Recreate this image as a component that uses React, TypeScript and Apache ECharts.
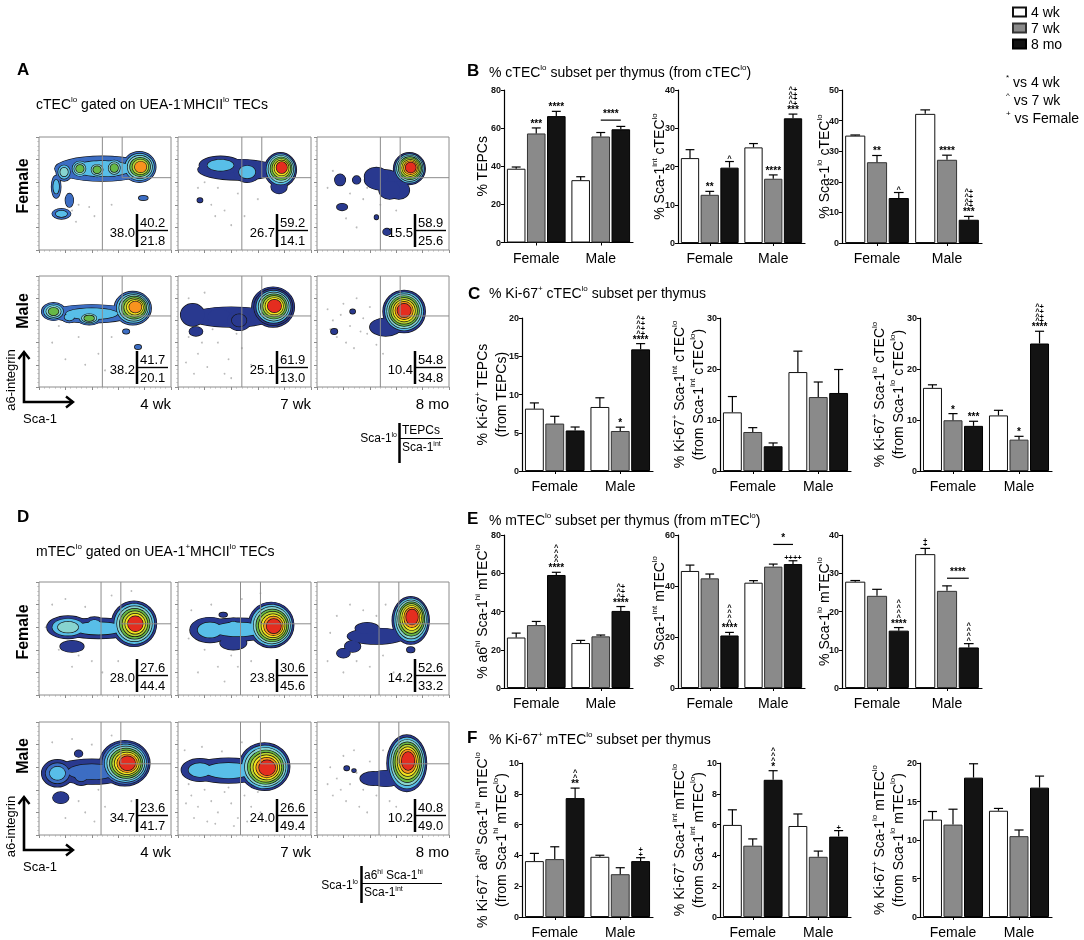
import React, { useEffect, useRef } from 'react';
import * as echarts from 'echarts';

const FONT = '"Liberation Sans", Arial, Helvetica, sans-serif';

const AGES = ['4 wk', '7 wk', '8 mo'];
const SEXES = ['Female', 'Male'];

// ---------- bar data: MEAN[age][sex], ERR[age][sex] ----------
const B1_MEAN = [[38.7, 32.7], [57.2, 55.6], [66.3, 59.4]];
const B1_ERR = [[0.9, 1.8], [2.9, 2.1], [2.5, 1.5]];
const B2_MEAN = [[22.2, 25.0], [12.6, 16.8], [19.7, 32.6]];
const B2_ERR = [[2.2, 1.0], [0.9, 1.0], [1.6, 1.1]];
const B3_MEAN = [[35.1, 42.2], [26.4, 27.2], [14.7, 7.6]];
const B3_ERR = [[0.2, 1.3], [2.2, 1.5], [1.8, 1.1]];

const C1_MEAN = [[8.15, 8.37], [6.2, 5.23], [5.3, 15.9]];
const C1_ERR = [[0.75, 1.2], [0.95, 0.5], [0.45, 0.75]];
const C2_MEAN = [[11.5, 19.4], [7.65, 14.5], [4.85, 15.3]];
const C2_ERR = [[3.1, 4.1], [0.85, 2.95], [0.65, 4.6]];
const C3_MEAN = [[16.3, 10.9], [9.95, 6.15], [8.85, 25.0]];
const C3_ERR = [[0.6, 1.0], [1.3, 0.65], [0.9, 2.4]];

const E1_MEAN = [[26.4, 23.5], [32.9, 27.0], [59.1, 40.3]];
const E1_ERR = [[2.3, 1.4], [1.9, 0.7], [1.4, 2.3]];
const E2_MEAN = [[45.9, 41.3], [43.0, 47.6], [20.6, 48.6]];
const E2_ERR = [[2.3, 0.8], [1.7, 1.0], [1.2, 1.3]];
const E3_MEAN = [[27.8, 35.0], [24.1, 25.4], [15.0, 10.6]];
const E3_ERR = [[0.3, 1.5], [1.7, 1.3], [0.8, 1.0]];

const F1_MEAN = [[3.63, 3.91], [3.76, 2.78], [7.72, 3.63]];
const F1_ERR = [[0.5, 0.1], [0.8, 0.42], [0.65, 0.22]];
const F2_MEAN = [[5.98, 5.91], [4.63, 3.91], [8.91, 5.22]];
const F2_ERR = [[0.98, 0.78], [0.44, 0.37], [0.59, 0.39]];
const F3_MEAN = [[12.65, 13.8], [12.0, 10.5], [18.1, 16.8]];
const F3_ERR = [[1.05, 0.3], [2.0, 0.8], [1.8, 1.5]];

// significance marks: [age, sex, lines from bottom to top]
const B1_ANN = [[1, 0, ['***']], [2, 0, ['****']]];
const B2_ANN = [[1, 0, ['**']], [2, 0, ['^']], [1, 1, ['****']], [2, 1, ['***', '^+', '^+', '^+', '^+']]];
const B3_ANN = [[1, 0, ['**']], [2, 0, ['^']], [1, 1, ['****']], [2, 1, ['***', '^+', '^+', '^+', '^+']]];
const C1_ANN = [[1, 1, ['*']], [2, 1, ['****', '^+', '^+', '^+', '^+']]];
const C2_ANN: any[] = [];
const C3_ANN = [[1, 0, ['*']], [2, 0, ['***']], [1, 1, ['*']], [2, 1, ['****', '^+', '^+', '^+', '^+']]];
const E1_ANN = [[2, 0, ['****', '^', '^', '^', '^']], [2, 1, ['****', '^+', '^+', '^+']]];
const E2_ANN = [[2, 0, ['****', '^', '^', '^', '^']], [2, 1, ['++++']]];
const E3_ANN = [[0, 1, ['+', '+']], [2, 0, ['****', '^', '^', '^', '^']], [2, 1, ['^', '^', '^', '^']]];
const F1_ANN = [[2, 0, ['**', '^', '^']], [2, 1, ['+', '+']]];
const F2_ANN = [[2, 0, ['*', '^', '^', '^']], [2, 1, ['+']]];
const F3_ANN: any[] = [];

// brackets: [sex, fromAge, toAge, yValue, text]
const B1_BR = [[1, 1, 2, 64.2, '****']];
const E2_BR = [[1, 1, 2, 56.3, '*']];
const E3_BR = [[1, 1, 2, 28.7, '****']];

// ---------- flow cytometry contour blobs: [cx, cy, rx, ry, levels, dx, dy] (Sca-1 x, a6 y, 0-100) ----------
const CMAP = ['#29398f', '#3c6dc3', '#58bee8', '#88d4cf', '#67b847', '#bad633', '#f5e21c', '#f7931e', '#e42d1f'];

const A_F4_PAL = [1, 2, 3, 4, 5, 7];
const A_F4_BLOBS = [
  [48, 72, 36, 11, 2],
  [76, 73.5, 12.5, 13.5, 6, 1, 0],
  [57, 72.5, 7, 8.5, 4],
  [44, 71, 7, 7.5, 4],
  [31, 72, 7, 8, 4],
  [19, 69, 6, 8, 3],
  [13, 56, 3.5, 10, 2],
  [23, 44, 3, 6, 1],
  [17, 32, 7, 4.5, 2],
  [79, 46, 3.5, 2, 1],
];
const A_F4_DOTS = [[25, 35], [30, 40], [38, 38], [55, 40], [28, 25], [42, 30]];
const A_F7_PAL = [0, 2, 3, 4, 5, 6, 8];
const A_F7_BLOBS = [
  [45, 71, 30, 9, 1],
  [77, 71, 12, 15, 7, 1, 2],
  [32, 75, 16, 8, 2],
  [52, 69, 10, 9, 2],
  [76, 56, 6, 6, 1],
  [16.5, 44, 2, 2, 1],
];
const A_F7_DOTS = [[20, 60], [30, 55], [45, 50], [25, 40], [35, 35], [60, 45], [50, 30], [15, 55], [40, 22], [28, 30]];
const A_F8_PAL = [0, 2, 3, 4, 5, 6, 7, 8];
const A_F8_BLOBS = [
  [50, 62, 14, 9, 1],
  [70, 72, 12, 14, 8, 1, 1],
  [62, 53, 8, 8, 1],
  [45, 65, 9, 8, 1],
  [55, 53, 8, 8, 1],
  [30, 62, 3, 3.5, 1],
  [17.5, 62, 4, 5, 1],
  [19, 38, 4, 3, 1],
  [53, 16, 3, 3, 1],
  [45, 29, 1.5, 2, 1],
];
const A_F8_DOTS = [[8, 55], [12, 70], [25, 50], [35, 45], [40, 72], [60, 35], [48, 40], [30, 20], [22, 28], [38, 55]];
const A_M4_PAL = [1, 2, 3, 4, 5, 6, 7];
const A_M4_BLOBS = [
  [40, 66, 32, 8, 2],
  [71, 71, 14, 15, 7, 2, 1],
  [38, 62, 9, 6, 4],
  [11, 68, 9, 8, 4],
  [23, 63, 6, 5, 2],
  [66, 50, 2.5, 2, 1],
  [75, 36, 2.5, 2, 1],
];
const A_M4_DOTS = [[10, 40], [20, 25], [30, 45], [45, 30], [55, 45], [15, 55], [35, 20], [50, 15]];
const A_M7_PAL = [0, 0, 2, 3, 4, 5, 6, 8];
const A_M7_BLOBS = [
  [40, 63, 32, 9, 1],
  [71.5, 72, 16, 18, 8, 1, 1],
  [11, 65, 9, 10, 1],
  [31, 63, 9, 7, 1],
  [46, 60, 9, 9, 2],
  [13.5, 50, 5, 4, 1],
];
const A_M7_DOTS = [[8, 45], [15, 30], [22, 18], [30, 40], [38, 25], [12, 12], [44, 48], [26, 52], [6, 22], [35, 12], [48, 35], [55, 20], [18, 40], [40, 8], [8, 80], [20, 85]];
const A_M8_PAL = [0, 2, 3, 4, 5, 6, 7, 8];
const A_M8_BLOBS = [
  [66, 68, 16, 19, 8, 0, 1],
  [52, 54, 12, 8, 1],
  [27, 68, 2, 2, 1],
  [13, 50, 2.5, 2.5, 1],
];
const A_M8_DOTS = [[8, 70], [12, 60], [20, 75], [25, 55], [30, 80], [35, 62], [40, 72], [15, 45], [22, 40], [45, 38], [50, 30], [28, 35], [10, 52], [38, 48], [18, 65], [33, 50]];
const D_F4_PAL = [0, 2, 3, 4, 5, 6, 8];
const D_F4_BLOBS = [
  [45, 59, 30, 9, 2],
  [72, 63, 17, 20, 7, 1, 0],
  [22, 60, 16, 10, 3],
  [42, 62, 8, 7, 2],
  [25, 43, 9, 5, 1],
];
const D_F4_DOTS = [[10, 80], [20, 85], [35, 78], [55, 88], [60, 30], [48, 20], [30, 35], [15, 40], [25, 25], [70, 92], [85, 50], [5, 60], [40, 30]];
const D_F7_PAL = [0, 2, 3, 4, 5, 6, 7, 8];
const D_F7_BLOBS = [
  [45, 58, 30, 10, 2],
  [70, 62, 17, 20, 8, 2, -1],
  [24, 57.5, 15, 11, 2],
  [41.6, 60, 8, 8, 2],
  [41.6, 46, 10, 6, 1],
  [34, 71, 3, 2, 1],
];
const D_F7_DOTS = [[10, 75], [25, 80], [40, 35], [30, 25], [20, 40], [55, 30], [15, 20], [62, 90], [48, 85], [8, 50], [35, 12], [45, 25]];
const D_F8_PAL = [0, 2, 3, 4, 5, 6, 7, 8];
const D_F8_BLOBS = [
  [45, 52, 22, 7, 1],
  [71, 66, 14, 21, 8, 1, 3],
  [38, 59, 9, 5, 1],
  [27, 43, 6, 5, 1],
  [20, 37, 5, 4, 1],
  [71, 40, 3, 2.5, 1],
];
const D_F8_DOTS = [[15, 70], [25, 80], [35, 75], [10, 55], [45, 70], [50, 35], [30, 30], [40, 25], [20, 20], [58, 20], [8, 30], [52, 80]];
const D_M4_PAL = [0, 1, 2, 3, 4, 5, 6, 7, 8];
const D_M4_BLOBS = [
  [40, 56, 30, 11, 2],
  [65, 63.5, 19, 20, 9, 2, 0],
  [14, 54.6, 12, 12, 3],
  [32, 53, 8, 9, 2],
  [16.5, 33, 6, 5, 1],
  [30, 72, 3, 3, 1],
];
const D_M4_DOTS = [[10, 82], [25, 85], [40, 80], [50, 25], [35, 20], [20, 15], [45, 40], [55, 88], [30, 30], [60, 15], [8, 45], [70, 30], [42, 12]];
const D_M7_PAL = [0, 2, 3, 4, 5, 6, 7, 8];
const D_M7_BLOBS = [
  [38, 57, 30, 11, 2],
  [65, 60.5, 19, 21, 8, 2, -1],
  [16.5, 57.5, 14, 10, 2],
  [31.6, 56, 10, 9, 1],
];
const D_M7_DOTS = [[5, 75], [10, 35], [15, 25], [20, 40], [25, 30], [30, 20], [35, 38], [40, 28], [45, 15], [50, 35], [55, 25], [60, 38], [12, 15], [28, 10], [42, 8], [8, 45], [18, 78], [33, 74], [48, 82], [62, 20], [38, 42], [22, 12], [6, 28], [52, 12]];
const D_M8_PAL = [0, 2, 3, 4, 5, 6, 7, 8];
const D_M8_BLOBS = [
  [52, 50, 12, 7, 1],
  [68, 63.5, 15, 25, 8, 1, 2],
  [42.7, 50, 10, 6, 1],
  [22.5, 59, 2, 2, 1],
  [28, 57, 1.5, 1.5, 1],
];
const D_M8_DOTS = [[10, 60], [15, 50], [20, 70], [25, 45], [30, 55], [35, 40], [40, 65], [45, 35], [50, 75], [12, 35], [22, 30], [32, 25], [8, 45], [28, 75], [55, 30], [60, 25], [38, 20], [18, 40]];

// gates [Sca-1lo | Sca-1int boundary, TEPC left boundary, TEPC lower boundary]
const A_GATE = [48, 63, 64];
const D_GATE = [47, 62, 63];

// quadrant percentages [left, upper right, lower right]
const A_NUMS = [['38.0', '40.2', '21.8'], ['26.7', '59.2', '14.1'], ['15.5', '58.9', '25.6'], ['38.2', '41.7', '20.1'], ['25.1', '61.9', '13.0'], ['10.4', '54.8', '34.8']];
const D_NUMS = [['28.0', '27.6', '44.4'], ['23.8', '30.6', '45.6'], ['14.2', '52.6', '33.2'], ['34.7', '23.6', '41.7'], ['24.0', '26.6', '49.4'], ['10.2', '40.8', '49.0']];

// ---------- layout ----------
const FLOW_COLS = [[39, 171], [178, 311], [317, 449]];
const A_ROWS = [[137, 250], [276, 387]];
const D_ROWS = [[582, 695], [722, 835]];

const FLOW_PLOTS = [
  { b: A_F4_BLOBS, p: A_F4_PAL, d: A_F4_DOTS, n: A_NUMS[0], g: A_GATE, c: 0, r: A_ROWS[0] },
  { b: A_F7_BLOBS, p: A_F7_PAL, d: A_F7_DOTS, n: A_NUMS[1], g: A_GATE, c: 1, r: A_ROWS[0] },
  { b: A_F8_BLOBS, p: A_F8_PAL, d: A_F8_DOTS, n: A_NUMS[2], g: A_GATE, c: 2, r: A_ROWS[0] },
  { b: A_M4_BLOBS, p: A_M4_PAL, d: A_M4_DOTS, n: A_NUMS[3], g: A_GATE, c: 0, r: A_ROWS[1] },
  { b: A_M7_BLOBS, p: A_M7_PAL, d: A_M7_DOTS, n: A_NUMS[4], g: A_GATE, c: 1, r: A_ROWS[1] },
  { b: A_M8_BLOBS, p: A_M8_PAL, d: A_M8_DOTS, n: A_NUMS[5], g: A_GATE, c: 2, r: A_ROWS[1] },
  { b: D_F4_BLOBS, p: D_F4_PAL, d: D_F4_DOTS, n: D_NUMS[0], g: D_GATE, c: 0, r: D_ROWS[0] },
  { b: D_F7_BLOBS, p: D_F7_PAL, d: D_F7_DOTS, n: D_NUMS[1], g: D_GATE, c: 1, r: D_ROWS[0] },
  { b: D_F8_BLOBS, p: D_F8_PAL, d: D_F8_DOTS, n: D_NUMS[2], g: D_GATE, c: 2, r: D_ROWS[0] },
  { b: D_M4_BLOBS, p: D_M4_PAL, d: D_M4_DOTS, n: D_NUMS[3], g: D_GATE, c: 0, r: D_ROWS[1] },
  { b: D_M7_BLOBS, p: D_M7_PAL, d: D_M7_DOTS, n: D_NUMS[4], g: D_GATE, c: 1, r: D_ROWS[1] },
  { b: D_M8_BLOBS, p: D_M8_PAL, d: D_M8_DOTS, n: D_NUMS[5], g: D_GATE, c: 2, r: D_ROWS[1] },
];

const BAR_CHARTS = [
  { m: B1_MEAN, e: B1_ERR, a: B1_ANN, br: B1_BR, max: 80, step: 20, name: '% TEPCs', box: [504, 90, 633, 242.5], gap: 14 },
  { m: B2_MEAN, e: B2_ERR, a: B2_ANN, br: [], max: 40, step: 10, name: '% Sca-1{s|int} cTEC{s|lo}', box: [678, 90, 805, 243], gap: 11 },
  { m: B3_MEAN, e: B3_ERR, a: B3_ANN, br: [], max: 50, step: 10, name: '% Sca-1{s|lo} cTEC{s|lo}', box: [842, 90, 982, 243], gap: 10 },
  { m: C1_MEAN, e: C1_ERR, a: C1_ANN, br: [], max: 20, step: 5, name: '% Ki-67{s|+} TEPCs\n(from TEPCs)', box: [522, 318, 653, 471], gap: 12 },
  { m: C2_MEAN, e: C2_ERR, a: C2_ANN, br: [], max: 30, step: 10, name: '% Ki-67{s|+} Sca-1{s|int} cTEC{s|lo}\n(from Sca-1{s|int} cTEC{s|lo})', box: [720, 318, 851, 471], gap: 13 },
  { m: C3_MEAN, e: C3_ERR, a: C3_ANN, br: [], max: 30, step: 10, name: '% Ki-67{s|+} Sca-1{s|lo} cTEC{s|lo}\n(from Sca-1{s|lo} cTEC{s|lo})', box: [920, 318, 1052, 471], gap: 13 },
  { m: E1_MEAN, e: E1_ERR, a: E1_ANN, br: [], max: 80, step: 20, name: '% a6{s|hi} Sca-1{s|hi} mTEC{s|lo}', box: [504, 535, 633, 688], gap: 14 },
  { m: E2_MEAN, e: E2_ERR, a: E2_ANN, br: E2_BR, max: 60, step: 20, name: '% Sca-1{s|int} mTEC{s|lo}', box: [678, 535, 805, 688], gap: 11 },
  { m: E3_MEAN, e: E3_ERR, a: E3_ANN, br: E3_BR, max: 40, step: 10, name: '% Sca-1{s|lo} mTEC{s|lo}', box: [842, 535, 982, 688], gap: 10 },
  { m: F1_MEAN, e: F1_ERR, a: F1_ANN, br: [], max: 10, step: 2, name: '% Ki-67{s|+} a6{s|hi} Sca-1{s|hi} mTEC{s|lo}\n(from Sca-1{s|hi} mTEC{s|lo})', box: [522, 763, 653, 917], gap: 12 },
  { m: F2_MEAN, e: F2_ERR, a: F2_ANN, br: [], max: 10, step: 2, name: '% Ki-67{s|+} Sca-1{s|int} mTEC{s|lo}\n(from Sca-1{s|int} mTEC{s|lo})', box: [720, 763, 851, 917], gap: 13 },
  { m: F3_MEAN, e: F3_ERR, a: F3_ANN, br: [], max: 20, step: 5, name: '% Ki-67{s|+} Sca-1{s|lo} mTEC{s|lo}\n(from Sca-1{s|lo} mTEC{s|lo})', box: [920, 763, 1052, 917], gap: 13 },
];

const BAR_FILL = ['#ffffff', '#8a8a8a', '#131313'];
const BAR_EDGE = ['#111111', '#333333', '#000000'];
const CAT_GAP = 0.09;
const BAR_GAP = 0.08;

const SUP = (fs: number) => ({ s: { fontSize: fs, verticalAlign: 'top', lineHeight: fs + 3, fontFamily: FONT, fill: '#000' } });
const MARK_RICH = {
  st: { fontSize: 10, fontWeight: 'bold', lineHeight: 7, fontFamily: FONT, fill: '#000' },
  c: { fontSize: 7.5, fontWeight: 'bold', lineHeight: 4.8, fontFamily: FONT, fill: '#000' },
};

function contourData(blobs: number[][], pal: number[]) {
  const maxL = Math.max(...blobs.map((b) => b[4]));
  const out: number[][] = [];
  for (let k = 0; k < maxL; k++) {
    for (let pass = 0; pass < 2; pass++) {
      for (const b of blobs) {
        const n = b[4];
        if (k >= n) continue;
        const f = 1 - (k / n) * 0.78;
        const t = n > 1 ? k / (n - 1) : 0;
        out.push([b[0] + (b[5] || 0) * t, b[1] + (b[6] || 0) * t, b[2] * f, b[3] * f, pal[k], pass]);
      }
    }
  }
  return out;
}

function contourItem(params: any, api: any) {
  const c = api.coord([api.value(0), api.value(1)]);
  const s = api.size([api.value(2), api.value(3)]);
  const col = CMAP[api.value(4)];
  const pass = api.value(5);
  return {
    type: 'ellipse',
    shape: { cx: c[0], cy: c[1], rx: s[0], ry: s[1] },
    style: pass === 0 ? { fill: col, stroke: '#161616', lineWidth: 1.4 } : { fill: col, stroke: null, lineWidth: 0 },
    silent: true,
  };
}

function gateItem(params: any, api: any) {
  const g1 = api.value(0), g2 = api.value(1), h = api.value(2);
  const a = api.coord([g1, 0]), b = api.coord([g1, 100]), c = api.coord([g2, 100]), d = api.coord([g2, h]), e = api.coord([100, h]);
  const st = { stroke: '#8c8c8c', lineWidth: 1 };
  return {
    type: 'group',
    children: [
      { type: 'line', shape: { x1: a[0], y1: a[1], x2: b[0], y2: b[1] }, style: st },
      { type: 'line', shape: { x1: c[0], y1: c[1], x2: d[0], y2: d[1] }, style: st },
      { type: 'line', shape: { x1: d[0], y1: d[1], x2: e[0], y2: e[1] }, style: st },
    ],
  };
}

function barX(api: any, cat: number, age: number) {
  const band = api.size([1, 0])[0];
  const usable = band * (1 - CAT_GAP);
  const bw = usable / (3 + 2 * BAR_GAP);
  const cx = api.coord([cat, 0])[0];
  return { x: cx - usable / 2 + age * bw * (1 + BAR_GAP) + bw / 2, bw };
}

function errItemFor(age: number, ann: Record<number, string[]>) {
  return (params: any, api: any) => {
    const cat = api.value(0), m = api.value(1), e = api.value(2);
    const { x, bw } = barX(api, cat, age);
    const base = api.coord([cat, m]);
    const top = api.coord([cat, m + e]);
    const children: any[] = [
      { type: 'line', shape: { x1: x, y1: base[1], x2: x, y2: top[1] }, style: { stroke: '#000', lineWidth: 1.2 } },
      { type: 'line', shape: { x1: x - bw * 0.24, y1: top[1], x2: x + bw * 0.24, y2: top[1] }, style: { stroke: '#000', lineWidth: 1.2 } },
    ];
    const lines = ann[cat];
    if (lines) {
      const text = lines
        .slice()
        .reverse()
        .map((ln) => (ln.indexOf('*') >= 0 ? '{st|' + ln + '}' : '{c|' + ln + '}'))
        .join('\n');
      children.push({
        type: 'text',
        x,
        y: top[1] - 1,
        style: { text, fill: '#000', fontFamily: FONT, align: 'center', verticalAlign: 'bottom', rich: MARK_RICH },
      });
    }
    return { type: 'group', children };
  };
}

function bracketItemFor(list: any[]) {
  return (params: any, api: any) => {
    const [sex, a1, a2, yv, text] = list[params.dataIndex];
    const p1 = barX(api, sex, a1), p2 = barX(api, sex, a2);
    const y = api.coord([sex, yv])[1];
    return {
      type: 'group',
      children: [
        { type: 'line', shape: { x1: p1.x, y1: y, x2: p2.x, y2: y }, style: { stroke: '#000', lineWidth: 1.2 } },
        { type: 'text', x: (p1.x + p2.x) / 2, y: y - 3, style: { text: '{st|' + text + '}', fill: '#000', align: 'center', verticalAlign: 'bottom', rich: MARK_RICH } },
      ],
    };
  };
}

function buildOption() {
  const grid: any[] = [], xAxis: any[] = [], yAxis: any[] = [], series: any[] = [], graphic: any[] = [];
  const txt = (x: number, y: number, text: string, o: any = {}) =>
    graphic.push({
      type: 'text', x, y, z: 100, silent: true, rotation: o.rotation || 0,
      style: {
        text, fontFamily: FONT, fontSize: o.fs || 14, fontWeight: o.fw || 'normal', fill: '#000',
        align: o.align || 'left', verticalAlign: 'middle', lineHeight: (o.fs || 14) + 3, rich: SUP(o.sfs || 8),
      },
    });
  const seg = (pts: number[][], w: number) =>
    graphic.push({ type: 'polyline', z: 100, silent: true, shape: { points: pts }, style: { stroke: '#000', lineWidth: w, fill: null } });

  let gi = 0;
  FLOW_PLOTS.forEach((fp) => {
    const [x0, x1] = FLOW_COLS[fp.c];
    const [y0, y1] = fp.r;
    grid.push({ left: x0, top: y0, width: x1 - x0, height: y1 - y0, show: true, borderColor: '#8c8c8c', borderWidth: 1, backgroundColor: '#fff' });
    const ax = {
      gridIndex: gi, type: 'value', min: 0, max: 100, interval: 20,
      axisLine: { show: false }, axisLabel: { show: false }, splitLine: { show: false },
      axisTick: { show: true, length: 3, lineStyle: { color: '#8c8c8c' } },
      minorTick: { show: true, splitNumber: 5, length: 1.5, lineStyle: { color: '#b0b0b0' } },
    };
    xAxis.push({ ...ax });
    yAxis.push({ ...ax });
    series.push({ type: 'scatter', xAxisIndex: gi, yAxisIndex: gi, data: fp.d, symbolSize: 1.8, silent: true, z: 1, itemStyle: { color: '#a9a9a9' } });
    series.push({ type: 'custom', xAxisIndex: gi, yAxisIndex: gi, data: contourData(fp.b, fp.p), renderItem: contourItem, clip: true, silent: true, z: 2, encode: { x: 0, y: 1 } });
    series.push({ type: 'custom', xAxisIndex: gi, yAxisIndex: gi, data: [fp.g], renderItem: gateItem, clip: true, silent: true, z: 3, encode: { x: 0, y: 1 }, itemStyle: { color: '#8c8c8c' } });
    const bx = x1 - 34;
    seg([[bx, y1 - 36], [bx, y1 - 3]], 2.5);
    seg([[bx, y1 - 19.5], [x1 - 3, y1 - 19.5]], 1.4);
    txt(bx - 2, y1 - 18, fp.n[0], { fs: 13, align: 'right' });
    txt(bx + 3, y1 - 27.5, fp.n[1], { fs: 13 });
    txt(bx + 3, y1 - 10, fp.n[2], { fs: 13 });
    gi++;
  });

  BAR_CHARTS.forEach((bc) => {
    const [l, t, r, b] = bc.box;
    grid.push({ left: l, top: t, width: r - l, height: b - t });
    xAxis.push({
      gridIndex: gi, type: 'category', data: SEXES,
      axisLine: { lineStyle: { color: '#000', width: 1.2 } },
      axisTick: { show: true, alignWithLabel: true, length: 3, lineStyle: { color: '#000' } },
      axisLabel: { fontSize: 14, color: '#000', margin: 8, fontFamily: FONT },
    });
    const multi = bc.name.indexOf('\n') >= 0;
    yAxis.push({
      gridIndex: gi, type: 'value', min: 0, max: bc.max, interval: bc.step,
      axisLine: { show: true, lineStyle: { color: '#000', width: 1.2 } },
      axisTick: { show: true, length: 3, lineStyle: { color: '#000' } },
      axisLabel: { fontSize: 9, fontWeight: 'bold', color: '#111', margin: 3, fontFamily: FONT },
      splitLine: { show: false },
      name: bc.name, nameLocation: 'middle', nameGap: bc.gap, nameMoveOverlap: false,
      nameTextStyle: { fontSize: 14, color: '#000', fontFamily: FONT, lineHeight: multi ? 18.5 : 17, rich: SUP(8) },
    });
    for (let a = 0; a < 3; a++) {
      series.push({
        type: 'bar', name: AGES[a], xAxisIndex: gi, yAxisIndex: gi, data: bc.m[a],
        barCategoryGap: CAT_GAP * 100 + '%', barGap: BAR_GAP * 100 + '%', silent: true, z: 2,
        itemStyle: { color: BAR_FILL[a], borderColor: BAR_EDGE[a], borderWidth: 1 },
      });
    }
    for (let a = 0; a < 3; a++) {
      const ann: Record<number, string[]> = {};
      (bc.a as any[]).forEach((it) => { if (it[0] === a) ann[it[1]] = it[2]; });
      series.push({
        type: 'custom', xAxisIndex: gi, yAxisIndex: gi, silent: true, z: 4, encode: { x: 0, y: 1 },
        itemStyle: { color: '#000' },
        data: SEXES.map((_, c) => [c, bc.m[a][c], bc.e[a][c]]),
        renderItem: errItemFor(a, ann),
      });
    }
    if (bc.br.length) {
      series.push({
        type: 'custom', xAxisIndex: gi, yAxisIndex: gi, silent: true, z: 4, encode: { x: 0, y: 1 },
        itemStyle: { color: '#000' },
        data: (bc.br as any[]).map((it) => [it[0], it[3]]),
        renderItem: bracketItemFor(bc.br as any[]),
      });
    }
    gi++;
  });

  // ---- left panels text ----
  txt(17, 69, 'A', { fs: 17, fw: 'bold' });
  txt(36, 104, 'cTEC{s|lo} gated on UEA-1{s|-}MHCII{s|lo} TECs');
  txt(22, 186, 'Female', { fs: 16, fw: 'bold', align: 'center', rotation: Math.PI / 2 });
  txt(22, 311, 'Male', { fs: 16, fw: 'bold', align: 'center', rotation: Math.PI / 2 });
  txt(17, 516, 'D', { fs: 17, fw: 'bold' });
  txt(36, 551, 'mTEC{s|lo} gated on UEA-1{s|+}MHCII{s|lo} TECs');
  txt(22, 632, 'Female', { fs: 16, fw: 'bold', align: 'center', rotation: Math.PI / 2 });
  txt(22, 756, 'Male', { fs: 16, fw: 'bold', align: 'center', rotation: Math.PI / 2 });

  [[A_ROWS[1][1], 352], [D_ROWS[1][1], 797]].forEach(([by, ay]) => {
    const ly = by + 15;
    AGES.forEach((ag, i) => txt(FLOW_COLS[i][1], ly + 1, ag, { fs: 15, align: 'right' }));
    seg([[24, ay], [24, ly], [73, ly]], 2.6);
    seg([[18.5, ay + 7], [24, ay], [29.5, ay + 7]], 2.4);
    seg([[66, ly - 5.5], [73, ly], [66, ly + 5.5]], 2.4);
    txt(10, (ay + ly) / 2 + 3, 'a6-integrin', { fs: 13, align: 'center', rotation: Math.PI / 2 });
    txt(23, ly + 16, 'Sca-1', { fs: 13 });
  });

  // gate key A
  txt(397, 438, 'Sca-1{s|lo}', { fs: 12, sfs: 7, align: 'right' });
  seg([[399.5, 423], [399.5, 463]], 2.5);
  seg([[399.5, 438.5], [443, 438.5]], 1.2);
  txt(402, 430, 'TEPCs', { fs: 12 });
  txt(402, 447, 'Sca-1{s|int}', { fs: 12, sfs: 7 });
  // gate key D
  txt(358, 885, 'Sca-1{s|lo}', { fs: 12, sfs: 7, align: 'right' });
  seg([[361.5, 866], [361.5, 903]], 2.5);
  seg([[361.5, 883.5], [442, 883.5]], 1.2);
  txt(364, 875, 'a6{s|hi} Sca-1{s|hi}', { fs: 12, sfs: 7 });
  txt(364, 892, 'Sca-1{s|int}', { fs: 12, sfs: 7 });

  // ---- right panels titles ----
  txt(467, 70, 'B', { fs: 17, fw: 'bold' });
  txt(489, 72, '% cTEC{s|lo} subset per thymus (from cTEC{s|lo})');
  txt(468, 293, 'C', { fs: 17, fw: 'bold' });
  txt(489, 293, '% Ki-67{s|+} cTEC{s|lo} subset per thymus');
  txt(467, 518, 'E', { fs: 17, fw: 'bold' });
  txt(489, 520, '% mTEC{s|lo} subset per thymus (from mTEC{s|lo})');
  txt(467, 737, 'F', { fs: 17, fw: 'bold' });
  txt(489, 739, '% Ki-67{s|+} mTEC{s|lo} subset per thymus');

  // significance key
  txt(1006, 82, '{s|*} vs 4 wk');
  txt(1006, 100, '{s|^} vs 7 wk');
  txt(1006, 118, '{s|+} vs Female');

  return {
    animation: false,
    backgroundColor: '#ffffff',
    textStyle: { fontFamily: FONT },
    legend: {
      data: AGES, orient: 'vertical', left: 1007, top: 0, itemWidth: 13, itemHeight: 9, itemGap: 2,
      icon: 'rect', selectedMode: false, textStyle: { fontSize: 14, color: '#000', fontFamily: FONT },
    },
    grid, xAxis, yAxis, series, graphic,
  };
}

export default function App() {
  const ref = useRef<HTMLDivElement>(null);
  useEffect(() => {
    const chart = echarts.init(ref.current as HTMLDivElement, undefined, { renderer: 'svg', width: 1084, height: 940 });
    chart.setOption(buildOption() as any);
    return () => chart.dispose();
  }, []);
  return <div ref={ref} style={{ position: 'fixed', left: 0, top: 0, width: 1084, height: 940, willChange: 'transform' }} />;
}
